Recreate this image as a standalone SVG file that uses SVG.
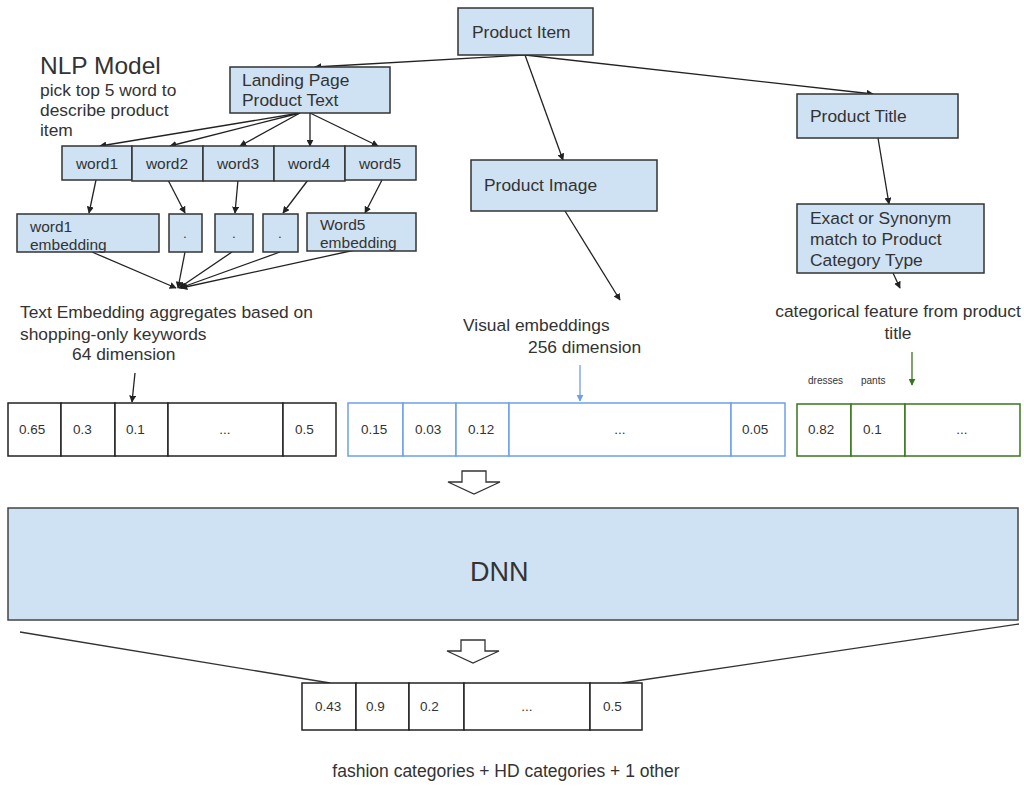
<svg xmlns="http://www.w3.org/2000/svg" width="1024" height="786" viewBox="0 0 1024 786">
<defs>
<marker id="ah" viewBox="0 0 10 10" refX="9" refY="5" markerWidth="7" markerHeight="7" markerUnits="userSpaceOnUse" orient="auto">
<path d="M0,0 L10,5 L0,10 z" fill="#222"/>
</marker>
<marker id="ahb" viewBox="0 0 10 10" refX="9" refY="5" markerWidth="7" markerHeight="7" markerUnits="userSpaceOnUse" orient="auto">
<path d="M0,0 L10,5 L0,10 z" fill="#6d9eeb"/>
</marker>
<marker id="ahg" viewBox="0 0 10 10" refX="9" refY="5" markerWidth="7" markerHeight="7" markerUnits="userSpaceOnUse" orient="auto">
<path d="M0,0 L10,5 L0,10 z" fill="#38761d"/>
</marker>
</defs>
<style>
text{font-family:"Liberation Sans",Arial,sans-serif;fill:#333}
.box{fill:#cfe2f3;stroke:#333;stroke-width:1.5}
.t{font-size:17.4px}
.w{font-size:15.5px}
.v{font-size:13.5px}
.cell{fill:#fff;stroke:#222;stroke-width:1.5}
.cellb{fill:#fff;stroke:#6d9eeb;stroke-width:1.5}
.cellg{fill:#fff;stroke:#38761d;stroke-width:1.5}
.c{stroke:#222;stroke-width:1.3;fill:none;marker-end:url(#ah)}
.ln{stroke:#333;stroke-width:1.3;fill:none}
.hollow{fill:#fff;stroke:#333;stroke-width:1.3}
</style>
<rect width="1024" height="786" fill="#fff"/>

<g id="nlp-label">
<text x="40" y="74" font-size="24.5">NLP Model</text>
<text x="40" y="96" class="t">pick top 5 word to</text>
<text x="40" y="116" class="t">describe product</text>
<text x="40" y="136" class="t">item</text>
</g>

<g id="connectors">
<line class="c" x1="525" y1="55" x2="315" y2="67"/>
<line class="c" x1="525" y1="55" x2="563" y2="160"/>
<line class="c" x1="525" y1="55" x2="873" y2="94"/>
<line class="c" x1="300" y1="113" x2="100" y2="146"/>
<line class="c" x1="300" y1="113" x2="170" y2="146"/>
<line class="c" x1="300" y1="113" x2="240" y2="146"/>
<line class="c" x1="310" y1="113" x2="310" y2="146"/>
<line class="c" x1="310" y1="113" x2="378" y2="146"/>
<line class="c" x1="96" y1="180" x2="89" y2="213"/>
<line class="c" x1="168" y1="180" x2="185" y2="213"/>
<line class="c" x1="238" y1="180" x2="235" y2="213"/>
<line class="c" x1="308" y1="180" x2="283" y2="213"/>
<line class="c" x1="382" y1="180" x2="365" y2="213"/>
<line class="c" x1="92" y1="252" x2="176" y2="288"/>
<line class="c" x1="185" y1="252" x2="178" y2="288"/>
<line class="c" x1="232" y1="252" x2="179" y2="288"/>
<line class="c" x1="280" y1="252" x2="180" y2="288"/>
<line class="c" x1="355" y1="250" x2="181" y2="288"/>
<line class="c" x1="565" y1="211" x2="620" y2="300"/>
<line class="c" x1="878" y1="138" x2="889" y2="204"/>
<line class="c" x1="893" y1="273" x2="900" y2="288"/>
<line class="c" x1="135" y1="373" x2="132" y2="402"/>
<line x1="580" y1="365" x2="580" y2="401" stroke="#6d9eeb" stroke-width="1.3" marker-end="url(#ahb)"/>
<line x1="912" y1="352" x2="912" y2="385" stroke="#38761d" stroke-width="1.3" marker-end="url(#ahg)"/>
<line class="ln" x1="20" y1="632" x2="330" y2="683"/>
<line class="ln" x1="1019" y1="624" x2="622" y2="683"/>
<polygon class="hollow" points="462,471 486,471 486,482 500,482 474,494 448,482 462,482"/>
<polygon class="hollow" points="461,640 485,640 485,651 499,651 473,663 447,651 461,651"/>
</g>

<g id="product-item">
<rect class="box" x="458" y="8" width="135" height="47"/>
<text x="472" y="38" class="t">Product Item</text>
</g>

<g id="landing-page">
<rect class="box" x="230" y="67" width="160" height="46"/>
<text x="242" y="86" class="t">Landing Page</text>
<text x="242" y="106" class="t">Product Text</text>
</g>

<g id="word1"><rect class="box" x="62" y="146" width="70" height="34"/><text x="97" y="169" class="w" text-anchor="middle">word1</text></g>
<g id="word2"><rect class="box" x="132" y="146" width="71" height="35"/><text x="167" y="169" class="w" text-anchor="middle">word2</text></g>
<g id="word3"><rect class="box" x="203" y="146" width="71" height="35"/><text x="238" y="169" class="w" text-anchor="middle">word3</text></g>
<g id="word4"><rect class="box" x="274" y="146" width="71" height="35"/><text x="309" y="169" class="w" text-anchor="middle">word4</text></g>
<g id="word5"><rect class="box" x="345" y="146" width="71" height="34"/><text x="380" y="169" class="w" text-anchor="middle">word5</text></g>

<g id="word1-embedding"><rect class="box" x="17" y="214" width="142" height="38"/><text x="30" y="232" class="w">word1</text><text x="30" y="250" class="w">embedding</text></g>
<g id="emb2"><rect class="box" x="169" y="214" width="33" height="38"/><text x="185" y="238" class="v" text-anchor="middle">.</text></g>
<g id="emb3"><rect class="box" x="215" y="214" width="38" height="38"/><text x="234" y="238" class="v" text-anchor="middle">.</text></g>
<g id="emb4"><rect class="box" x="263" y="214" width="35" height="38"/><text x="280" y="238" class="v" text-anchor="middle">.</text></g>
<g id="word5-embedding"><rect class="box" x="307" y="213" width="109" height="38"/><text x="320" y="230" class="w">Word5</text><text x="320" y="248" class="w">embedding</text></g>

<g id="text-embedding-label">
<text x="20" y="318" class="t">Text Embedding aggregates based on</text>
<text x="20" y="340" class="t">shopping-only keywords</text>
<text x="72" y="360" class="t">64 dimension</text>
</g>

<g id="product-image">
<rect class="box" x="471" y="160" width="186" height="51"/>
<text x="484" y="191" class="t">Product Image</text>
</g>

<g id="visual-label">
<text x="463" y="331" class="t">Visual embeddings</text>
<text x="528" y="353" class="t">256 dimension</text>
</g>

<g id="product-title">
<rect class="box" x="797" y="94" width="161" height="44"/>
<text x="810" y="122" class="t">Product Title</text>
</g>

<g id="exact-match">
<rect class="box" x="797" y="204" width="187" height="69"/>
<text x="810" y="224" class="t">Exact or Synonym</text>
<text x="810" y="245" class="t">match to Product</text>
<text x="810" y="266" class="t">Category Type</text>
</g>

<g id="categorical-label">
<text x="898" y="317" class="t" text-anchor="middle">categorical feature from product</text>
<text x="898" y="339" class="t" text-anchor="middle">title</text>
<text x="808" y="384" font-size="10">dresses</text>
<text x="861" y="384" font-size="10">pants</text>
</g>

<g id="text-vector">
<rect class="cell" x="8" y="403" width="53" height="53"/>
<rect class="cell" x="61" y="403" width="54" height="53"/>
<rect class="cell" x="115" y="403" width="53" height="53"/>
<rect class="cell" x="168" y="403" width="115" height="53"/>
<rect class="cell" x="283" y="403" width="53" height="53"/>
<text x="19" y="434" class="v">0.65</text>
<text x="73" y="434" class="v">0.3</text>
<text x="126" y="434" class="v">0.1</text>
<text x="225" y="434" class="v" text-anchor="middle" font-size="10">...</text>
<text x="295" y="434" class="v">0.5</text>
</g>

<g id="visual-vector">
<rect class="cellb" x="348" y="403" width="55" height="53"/>
<rect class="cellb" x="403" y="403" width="53" height="53"/>
<rect class="cellb" x="456" y="403" width="53" height="53"/>
<rect class="cellb" x="509" y="403" width="222" height="53"/>
<rect class="cellb" x="731" y="403" width="54" height="53"/>
<text x="361" y="434" class="v">0.15</text>
<text x="415" y="434" class="v">0.03</text>
<text x="468" y="434" class="v">0.12</text>
<text x="620" y="434" class="v" text-anchor="middle" font-size="10">...</text>
<text x="742" y="434" class="v">0.05</text>
</g>

<g id="category-vector">
<rect class="cellg" x="797" y="404" width="54" height="52"/>
<rect class="cellg" x="851" y="404" width="54" height="52"/>
<rect class="cellg" x="905" y="404" width="115" height="52"/>
<text x="808" y="434" class="v">0.82</text>
<text x="863" y="434" class="v">0.1</text>
<text x="962" y="434" class="v" text-anchor="middle" font-size="10">...</text>
</g>

<g id="dnn">
<rect x="8" y="508" width="1010" height="112" fill="#cfe2f3" stroke="#444" stroke-width="1.5"/>
<text x="470" y="581" font-size="27" fill="#222">DNN</text>
</g>

<g id="output-vector">
<rect class="cell" x="302" y="683" width="54" height="47"/>
<rect class="cell" x="356" y="683" width="53" height="47"/>
<rect class="cell" x="409" y="683" width="55" height="47"/>
<rect class="cell" x="464" y="683" width="126" height="47"/>
<rect class="cell" x="590" y="683" width="52" height="47"/>
<text x="315" y="711" class="v">0.43</text>
<text x="366" y="711" class="v">0.9</text>
<text x="420" y="711" class="v">0.2</text>
<text x="527" y="711" class="v" text-anchor="middle" font-size="10">...</text>
<text x="603" y="711" class="v">0.5</text>
</g>

<g id="output-label">
<text x="506" y="777" font-size="17.5" text-anchor="middle">fashion categories + HD categories + 1 other</text>
</g>
</svg>
